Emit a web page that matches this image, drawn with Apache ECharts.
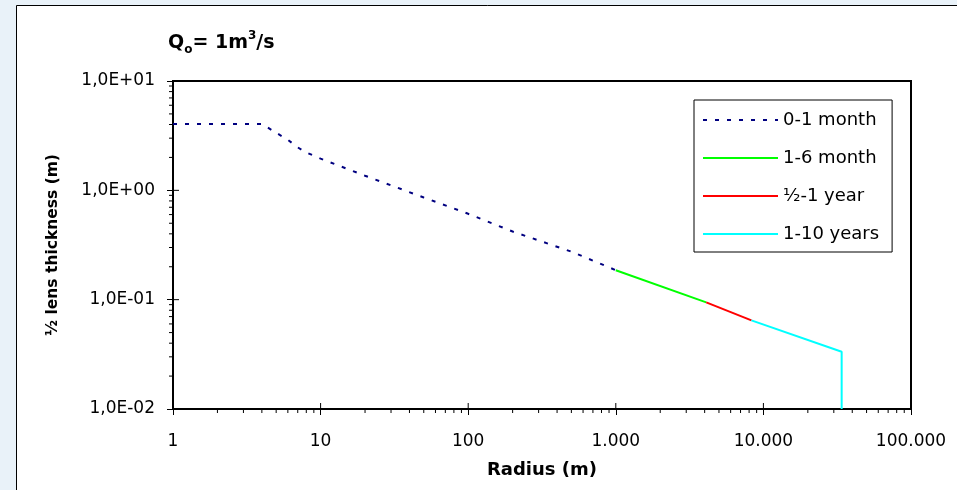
<!DOCTYPE html>
<html>
<head>
<meta charset="utf-8">
<script src="https://cdn.jsdelivr.net/npm/echarts@6/dist/echarts.min.js"></script>
<style>
  html, body { margin: 0; padding: 0; background: #e9f2f9; }
  #chart { width: 957px; height: 490px; }
</style>
</head>
<body>
<div id="chart"></div>
<script>
// ---- data ----
const seriesNames = ['0-1 month', '1-6 month', '½-1 year', '1-10 years'];
const radius01 = [1, 4, 5, 6, 7, 8, 10, 20, 50, 100, 200, 500, 1000];
const thick01  = [4.05, 4.05, 3.36, 2.90, 2.47, 2.22, 1.95, 1.36, 0.86, 0.61, 0.42, 0.275, 0.186];
const radius16 = [1000, 4100];
const thick16  = [0.186, 0.0945];
const radiusHalf1 = [4100, 8300];
const thickHalf1  = [0.0945, 0.0647];
const radius110 = [8300, 33900, 33900];
const thick110  = [0.0647, 0.0334, 0.01];

const xTickValues = [1, 10, 100, 1000, 10000, 100000];
const xTickLabels = ['1', '10', '100', '1.000', '10.000', '100.000'];
const yTickValues = [0.01, 0.1, 1, 10];
const yTickLabels = ['1,0E-02', '1,0E-01', '1,0E+00', '1,0E+01'];

const X_MIN = 1, X_MAX = 100000, Y_MIN = 0.01, Y_MAX = 10;

function pairs(xs, ys) { return xs.map((x, i) => [x, ys[i]]); }
function labelFor(values, labels, v) {
  for (let i = 0; i < values.length; i++) {
    if (Math.abs(Math.log10(v) - Math.log10(values[i])) < 1e-6) return labels[i];
  }
  return '';
}

// tick marks (axis structure): minor ticks at 2..9 of each decade, majors inside
const tickData = [];
for (let i = 0; i < xTickValues.length - 1; i++) {
  for (let k = 2; k <= 9; k++) tickData.push([xTickValues[i] * k, Y_MIN, 0]);
}
xTickValues.forEach(v => tickData.push([v, Y_MIN, 1]));
for (let i = 0; i < yTickValues.length - 1; i++) {
  for (let k = 2; k <= 9; k++) tickData.push([X_MIN, yTickValues[i] * k, 2]);
}
yTickValues.forEach(v => tickData.push([X_MIN, v, 3]));

const FONT = '"DejaVu Sans", "Liberation Sans", Arial, sans-serif';

const chart = echarts.init(document.getElementById('chart'), null, { renderer: 'canvas' });
chart.setOption({
  animation: false,
  backgroundColor: 'transparent',
  graphic: [{
    type: 'rect', z: -100, silent: true,
    shape: { x: 16.5, y: 5.5, width: 1200, height: 800 },
    style: { fill: '#ffffff', stroke: '#000000', lineWidth: 1 }
  }],
  title: {
    left: 163, top: 25,
    text: '{q|Q}{sub|o}{q|= 1m}{sup|3}{q|/s}',
    textStyle: {
      rich: {
        q: { fontFamily: FONT, fontWeight: 'bold', fontSize: 19, color: '#000', lineHeight: 26 },
        sub: { fontFamily: FONT, fontWeight: 'bold', fontSize: 12, color: '#000', lineHeight: 12, verticalAlign: 'bottom' },
        sup: { fontFamily: FONT, fontWeight: 'bold', fontSize: 12, color: '#000', lineHeight: 12, verticalAlign: 'top' }
      }
    }
  },
  legend: {
    orient: 'vertical',
    left: 694, top: 100,
    data: seriesNames,
    itemWidth: 75, itemHeight: 14, itemGap: 20,
    padding: [11, 13, 9, 8],
    backgroundColor: '#ffffff',
    borderColor: '#000000', borderWidth: 1, borderRadius: 0,
    itemStyle: { color: 'rgba(0,0,0,0)', borderColor: 'rgba(0,0,0,0)', borderWidth: 0 },
    lineStyle: { width: 2 },
    textStyle: { fontFamily: FONT, fontSize: 18, color: '#000' },
    selectedMode: false
  },
  grid: {
    left: 173, right: 46, top: 81, bottom: 81,
    show: true, borderColor: '#000', borderWidth: 2, backgroundColor: '#fff'
  },
  xAxis: {
    type: 'log', logBase: 10, min: X_MIN, max: X_MAX,
    name: 'Radius (m)', nameLocation: 'middle', nameGap: 52,
    nameTextStyle: { fontFamily: FONT, fontWeight: 'bold', fontSize: 18, color: '#000' },
    axisLine: { show: true, lineStyle: { color: '#000', width: 2 } },
    axisTick: { show: true, inside: false, length: 6, lineStyle: { color: '#000', width: 1 } },
    axisLabel: {
      margin: 24, fontFamily: FONT, fontSize: 17, color: '#000',
      formatter: v => labelFor(xTickValues, xTickLabels, v)
    },
    splitLine: { show: false },
    minorTick: { show: false }
  },
  yAxis: {
    type: 'log', logBase: 10, min: Y_MIN, max: Y_MAX,
    name: '½ lens thickness (m)', nameLocation: 'middle', nameGap: 112,
    nameTextStyle: { fontFamily: FONT, fontWeight: 'bold', fontSize: 15.5, color: '#000' },
    axisLine: { show: true, lineStyle: { color: '#000', width: 2 } },
    axisTick: { show: true, inside: false, length: 6, lineStyle: { color: '#000', width: 1 } },
    axisLabel: {
      margin: 18, fontFamily: FONT, fontSize: 17, color: '#000',
      formatter: v => labelFor(yTickValues, yTickLabels, v)
    },
    splitLine: { show: false },
    minorTick: { show: false }
  },
  series: [
    {
      name: seriesNames[0], type: 'line', data: pairs(radius01, thick01),
      symbol: 'none', smooth: false,
      lineStyle: { color: '#000080', width: 2, type: [4, 8] },
      itemStyle: { color: '#000080' }, z: 3
    },
    {
      name: seriesNames[1], type: 'line', data: pairs(radius16, thick16),
      symbol: 'none',
      lineStyle: { color: '#00ff00', width: 2 }, itemStyle: { color: '#00ff00' }, z: 3
    },
    {
      name: seriesNames[2], type: 'line', data: pairs(radiusHalf1, thickHalf1),
      symbol: 'none',
      lineStyle: { color: '#ff0000', width: 2 }, itemStyle: { color: '#ff0000' }, z: 3
    },
    {
      name: seriesNames[3], type: 'line', data: pairs(radius110, thick110),
      symbol: 'none',
      lineStyle: { color: '#00ffff', width: 2 }, itemStyle: { color: '#00ffff' }, z: 3
    },
    {
      name: 'ticks', type: 'custom', data: tickData, clip: false, silent: true, z: 5,
      renderItem: function (params, api) {
        const p = api.coord([api.value(0), api.value(1)]);
        const kind = api.value(2);
        let shape;
        if (kind === 0) shape = { x1: p[0], y1: p[1], x2: p[0], y2: p[1] + 4 };
        else if (kind === 1) shape = { x1: p[0], y1: p[1], x2: p[0], y2: p[1] - 6 };
        else if (kind === 2) shape = { x1: p[0], y1: p[1], x2: p[0] - 4, y2: p[1] };
        else shape = { x1: p[0], y1: p[1], x2: p[0] + 6, y2: p[1] };
        return { type: 'line', shape: shape, style: { stroke: '#000', lineWidth: 1 } };
      }
    }
  ]
});
</script>
</body>
</html>
